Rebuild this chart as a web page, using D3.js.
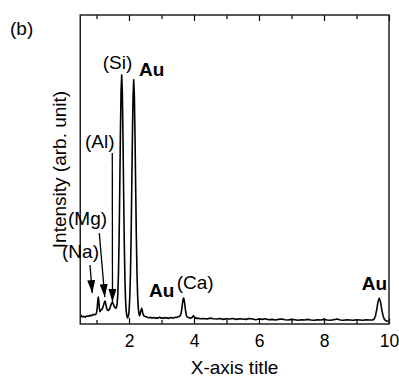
<!DOCTYPE html>
<html><head><meta charset="utf-8">
<script src="https://cdn.jsdelivr.net/npm/d3@7"></script>
<style>
html,body{margin:0;padding:0;background:#fff;}
svg text{font-family:"Liberation Sans",Arial,Helvetica,sans-serif;fill:#000;}
</style></head>
<body>
<svg id="chart" width="399" height="378"></svg>
<script>
// Energy (keV) of each spectrum sample
const energy = [
 0.50,0.52,0.55,0.60,0.65,0.70,0.75,0.80,0.85,0.90,0.95,0.98,
 1.00,1.02,1.04,1.055,1.07,1.09,1.11,1.13,1.15,1.18,1.21,1.24,1.26,1.28,1.31,1.34,1.37,
 1.40,1.43,1.46,1.49,1.52,1.55,1.58,
 1.595,1.615,1.635,1.655,1.675,1.695,1.715,1.735,1.755,1.775,1.795,1.815,1.835,1.855,1.875,1.895,1.915,1.935,1.955,
 1.965,1.985,2.005,2.025,2.045,2.065,2.085,2.105,2.125,2.145,2.165,2.185,2.205,2.225,2.245,2.265,2.285,2.305,2.325,
 2.345,2.37,2.39,2.41,2.43,2.46,2.50,2.54,
 2.58,2.62,2.66,2.70,2.74,2.78,2.82,2.86,2.90,2.94,2.98,3.02,3.06,3.10,3.14,3.18,3.22,3.26,3.30,3.34,3.38,3.42,3.46,3.50,3.54,3.58,
 3.60,3.62,3.64,3.66,3.68,3.70,3.72,3.74,3.76,3.78,3.82,3.86,3.90,3.94,3.98,4.02,4.06,
 4.10,4.20,4.30,4.40,4.50,4.60,4.70,4.80,4.90,5.00,5.10,5.20,5.30,5.40,5.50,5.60,5.70,5.80,5.90,
 6.00,6.10,6.20,6.30,6.40,6.50,6.60,6.70,6.80,6.90,7.00,7.10,7.20,7.30,7.40,7.50,7.60,7.70,7.80,7.90,
 8.00,8.10,8.20,8.30,8.40,8.50,8.60,8.70,8.80,8.90,9.00,9.10,9.20,9.30,9.40,
 9.46,9.50,9.54,9.58,9.62,9.66,9.70,9.74,9.78,9.82,9.86,9.90,9.95,10.00
];
// Intensity (arb. unit) of each sample
const intensity = [
 2.6,2.9,2.3,2.5,2.2,2.6,2.5,2.8,2.7,3.1,3.0,3.2,
 3.6,5.0,7.6,8.7,7.4,4.9,4.0,4.4,4.6,4.9,5.8,7.0,7.4,6.8,5.2,4.5,4.4,
 4.8,5.7,6.6,7.0,6.4,5.5,5.3,
 5.1,5.4,6.5,9.6,15.9,27.0,43.1,60.9,75.2,80.6,75.0,60.5,42.4,26.2,14.5,7.5,4.0,2.6,2.0,
 2.2,2.7,4.7,8.8,16.4,28.4,44.2,60.8,73.8,79.0,73.9,61.0,44.5,28.8,16.8,9.3,5.3,3.4,2.7,
 3.4,4.4,5.1,4.3,3.2,2.6,2.4,2.3,
 2.1,2.0,2.2,1.9,2.0,2.1,1.8,2.0,1.9,2.2,1.9,2.0,1.8,2.1,1.9,2.0,1.8,2.0,2.1,1.9,2.0,2.2,2.1,2.3,2.4,2.8,
 3.3,4.5,6.2,7.8,8.4,7.7,6.0,4.3,3.0,2.4,2.1,2.0,1.9,2.1,2.7,2.2,1.8,
 1.9,1.7,1.8,1.6,1.9,1.7,1.6,1.8,1.5,1.7,1.6,1.8,1.5,1.7,1.6,1.5,1.8,1.6,1.4,
 1.6,1.5,1.7,1.4,1.5,1.3,1.5,1.6,1.4,1.3,1.5,1.4,1.2,1.4,1.3,1.5,1.3,1.2,1.4,1.3,
 1.5,1.3,1.2,1.4,1.6,1.3,1.2,1.4,1.3,1.2,1.4,1.3,1.2,1.4,1.3,
 1.3,1.3,1.6,2.5,4.5,7.1,8.3,7.1,4.5,2.5,1.5,1.1,0.9,0.8
];
const majorTicks = [2,4,6,8,10];
const minorTicks = [1,3,5,7,9];
const tickLabels = ["2","4","6","8","10"];
// Labels: text, anchor energy, anchor intensity, bold
const labelText   = ["(Si)","Au","(Al)","(Mg)","(Na)","Au","(Ca)","Au"];
const labelE      = [1.19,2.31,0.646,0.123,-0.06,2.615,3.468,9.16];
const labelI      = [82.4,80.3,56.8,32.2,21.2,8.74,11.17,11.0];
const labelBold   = [false,true,false,false,false,true,false,true];
// Arrows: from (E,I) to tip (E,I)
const arrowFromE = [0.80,1.086,1.486];
const arrowFromI = [19.1,29.4,55.3];
const arrowToE   = [0.87,1.255,1.492];
const arrowToI   = [10.0,8.7,7.1];

const svg = d3.select("#chart");
const L = 80.25, R = 389, T = 15, B = 324;
const x = d3.scaleLinear().domain([0.5,10]).range([L,R]);
const y = d3.scaleLinear().domain([0,100]).range([B,T]);

const defs = svg.append("defs");
defs.append("marker").attr("id","ah").attr("markerUnits","userSpaceOnUse")
  .attr("viewBox","0 0 13 8").attr("markerWidth",13).attr("markerHeight",8)
  .attr("refX",13).attr("refY",4).attr("orient","auto")
  .append("path").attr("d","M0,0L13,4L0,8Z").attr("fill","#000");
defs.append("clipPath").attr("id","clip").append("rect")
  .attr("x",L).attr("y",T).attr("width",R-L).attr("height",B-T);

const data = energy.map((e,i)=>[e,intensity[i]]);
svg.append("path").datum(data)
  .attr("clip-path","url(#clip)")
  .attr("fill","none").attr("stroke","#000").attr("stroke-width",1.6)
  .attr("stroke-linejoin","round")
  .attr("d",d3.line().x(d=>x(d[0])).y(d=>y(d[1])));

// axes with inward ticks
const bottomAxis = d3.axisBottom(x).tickValues(majorTicks).tickSize(-6)
  .tickFormat((d,i)=>tickLabels[i]).tickSizeOuter(0).tickPadding(12);
const gb = svg.append("g").attr("transform",`translate(0,${B})`).call(bottomAxis);
gb.select(".domain").remove();
gb.selectAll("line").attr("stroke","#000").attr("stroke-width",1.2);
gb.selectAll("text").style("font-size","17.5px").attr("dy","0.6em");
const gbm = svg.append("g").attr("transform",`translate(0,${B})`)
  .call(d3.axisBottom(x).tickValues(minorTicks).tickSize(-4).tickFormat(""));
gbm.select(".domain").remove();
gbm.selectAll("line").attr("stroke","#000").attr("stroke-width",1.2);

const gt = svg.append("g").attr("transform",`translate(0,${T})`)
  .call(d3.axisTop(x).tickValues(majorTicks).tickSize(-6).tickFormat(""));
gt.select(".domain").remove();
gt.selectAll("line").attr("stroke","#000").attr("stroke-width",1.2);
const gtm = svg.append("g").attr("transform",`translate(0,${T})`)
  .call(d3.axisTop(x).tickValues(minorTicks).tickSize(-4).tickFormat(""));
gtm.select(".domain").remove();
gtm.selectAll("line").attr("stroke","#000").attr("stroke-width",1.2);

svg.append("rect").attr("x",L).attr("y",T).attr("width",R-L).attr("height",B-T)
  .attr("fill","none").attr("stroke","#222").attr("stroke-width",1.5);

// arrows
svg.selectAll("line.arrow").data(arrowFromE).join("line").attr("class","arrow")
  .attr("x1",(d,i)=>x(arrowFromE[i])).attr("y1",(d,i)=>y(arrowFromI[i]))
  .attr("x2",(d,i)=>x(arrowToE[i])).attr("y2",(d,i)=>y(arrowToI[i]))
  .attr("stroke","#000").attr("stroke-width",1.3).attr("marker-end","url(#ah)");

// labels
svg.selectAll("text.lab").data(labelText).join("text").attr("class","lab")
  .attr("x",(d,i)=>x(labelE[i])).attr("y",(d,i)=>y(labelI[i]))
  .style("font-size","19px")
  .style("font-weight",(d,i)=>labelBold[i]?"bold":"normal")
  .text(d=>d);

svg.append("text").attr("x",10).attr("y",35).style("font-size","19px").text("(b)");
svg.append("text").attr("x",(L+R)/2).attr("y",374).attr("text-anchor","middle")
  .style("font-size","19px").text("X-axis title");
svg.append("text").attr("transform",`translate(66,${(T+B)/2}) rotate(-90)`)
  .attr("text-anchor","middle").style("font-size","19px").text("Intensity (arb. unit)");
</script>
</body></html>
